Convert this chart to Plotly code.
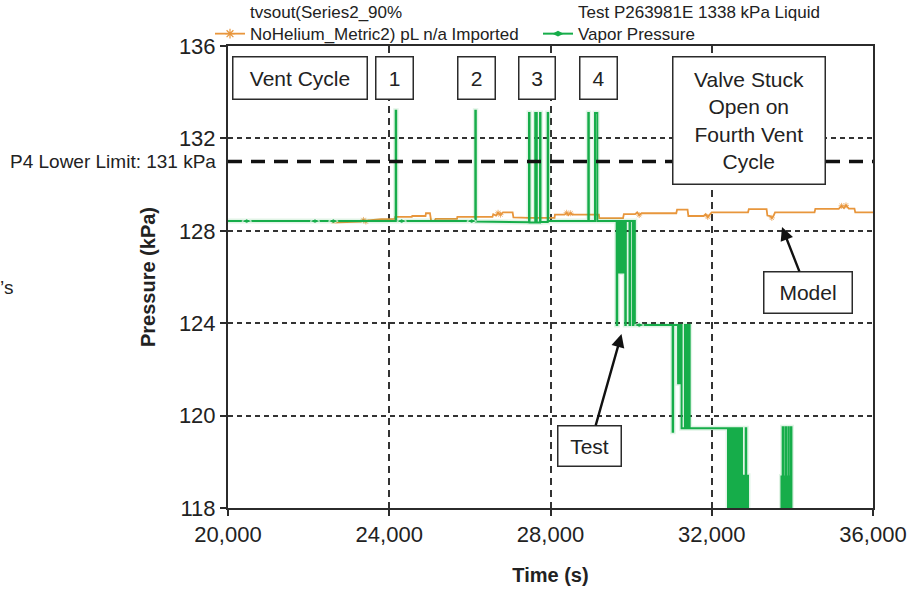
import plotly.graph_objects as go

FONT = "Liberation Sans, Arial, sans-serif"
INK = "#2b2b2b"
ORANGE = "#E8963C"
GREEN = "#16AD4A"

# Model prediction (orange), time in s, pressure in kPa
model_time = [22570, 23050, 23230, 23300, 23360, 23420, 23480, 23800, 24140, 24150,
              24560, 24570, 24900, 24910, 25010, 25040, 25120, 25150, 25680, 25690,
              26560, 26580, 26650, 26700, 26760, 26820, 27060, 27080, 27470, 28100,
              28110, 28350, 28400, 28440, 28500, 28540, 29200, 29210, 29800, 29820,
              30100, 30150, 30200, 30260, 31120, 31140, 31400, 31420, 31800, 31850,
              31900, 31960, 32000, 32900, 32920, 33360, 33380, 33450, 33490, 33530,
              33570, 34550, 34570, 35150, 35220, 35280, 35330, 35400, 35540, 35560,
              36000]
model_kpa = [128.36, 128.38, 128.42, 128.40, 128.47, 128.40, 128.45, 128.50, 128.52, 128.60,
             128.60, 128.64, 128.64, 128.76, 128.76, 128.42, 128.42, 128.52, 128.52, 128.60,
             128.60, 128.72, 128.66, 128.78, 128.70, 128.80, 128.80, 128.58, 128.56, 128.56,
             128.70, 128.70, 128.78, 128.68, 128.76, 128.70, 128.70, 128.55, 128.55, 128.72,
             128.72, 128.80, 128.68, 128.76, 128.76, 128.92, 128.92, 128.64, 128.64, 128.72,
             128.60, 128.70, 128.80, 128.80, 128.94, 128.94, 128.66, 128.64, 128.56, 128.64,
             128.80, 128.80, 128.95, 128.95, 129.08, 128.98, 129.10, 128.96, 128.96, 128.80,
             128.80]
model_marker_time = [23360, 23420, 26700, 26760, 28400, 28500, 30200, 31900, 33490, 35220, 35330]

# Test data (green): vent cycles 1-4 on the liquid vapor pressure trace
test_vent_time = [20000, 20464, 22158, 22612, 24160, 24160, 24172, 24172, 24308, 26045,
                  26135, 26135, 26147, 26147, 27467, 27467, 27479, 27479, 27622, 27622,
                  27660, 27660, 27740, 27740, 27752, 27752, 27931, 27931, 27943, 27943,
                  28938, 28938, 28950, 28950, 29104, 29104, 29161, 29161, 29642]
test_vent_kpa = [128.42, 128.42, 128.42, 128.42, 128.42, 133.2, 133.2, 128.42, 128.42, 128.42,
                 128.42, 133.2, 133.2, 128.40, 128.37, 133.1, 133.1, 128.36, 128.36, 133.1,
                 133.1, 128.36, 128.36, 133.1, 133.1, 128.38, 128.38, 133.1, 133.1, 128.42,
                 128.42, 133.1, 133.1, 128.42, 128.42, 133.1, 133.1, 128.42, 128.42]

# Valve stuck open: first pressure drop
test_drop1_time = [29642, 29655, 29655, 29680, 29680, 29698, 29698, 29716, 29716, 29734,
                   29734, 29752, 29752, 29770, 29770, 29788, 29788, 29806, 29806, 29824,
                   29824, 29842, 29842, 29855, 29855, 29868, 29868, 29960, 29960, 29972,
                   29972, 30040, 30040, 30052, 30052, 30092, 30092, 30200, 31030]
test_drop1_kpa = [123.92, 123.92, 128.42, 128.42, 126.2, 126.2, 128.42, 128.42, 126.2, 126.2,
                  128.42, 128.42, 126.2, 126.2, 128.42, 128.42, 126.2, 126.2, 128.42, 128.42,
                  126.2, 126.2, 128.42, 128.42, 123.92, 123.92, 128.42, 128.42, 123.92, 123.92,
                  128.42, 128.42, 123.92, 123.92, 128.42, 128.42, 123.92, 123.92, 123.92]

# Second pressure drop
test_drop2_time = [31030, 31042, 31042, 31165, 31165, 31180, 31180, 31195, 31195, 31210,
                   31210, 31225, 31225, 31240, 31240, 31252, 31252, 31335, 31335, 31347,
                   31347, 31390, 31390, 31402, 31402, 31440, 31440, 31452, 31452, 32403]
test_drop2_kpa = [119.3, 119.3, 123.92, 123.92, 121.4, 121.4, 123.92, 123.92, 121.4, 121.4,
                  123.92, 123.92, 121.4, 121.4, 123.92, 123.92, 119.45, 119.45, 123.92, 123.92,
                  119.45, 119.45, 123.92, 123.92, 119.45, 119.45, 123.92, 123.92, 119.45, 119.45]

# Rapid cycling below 120 kPa (values under the axis floor are clipped)
test_burst3_time = [32403, 32428, 32428, 32451, 32451, 32477, 32477, 32502, 32502, 32526,
                    32526, 32553, 32553, 32577, 32577, 32600, 32600, 32627, 32627, 32652,
                    32652, 32676, 32676, 32703, 32703, 32727, 32727, 32750, 32750, 32775,
                    32775, 32798, 32798, 32820, 32820, 32843, 32843, 32855, 32855, 32878,
                    32878, 32899, 32899, 33729]
test_burst3_kpa = [115.0, 115.0, 119.45, 119.45, 115.0, 115.0, 119.45, 119.45, 115.0, 115.0,
                   119.45, 119.45, 115.0, 115.0, 119.45, 119.45, 115.0, 115.0, 119.45, 119.45,
                   115.0, 115.0, 119.45, 119.45, 115.0, 115.0, 119.45, 119.45, 115.0, 115.0,
                   117.4, 117.4, 115.0, 115.0, 117.4, 117.4, 119.45, 119.45, 115.0, 115.0,
                   117.4, 117.4, 115.0, 115.0]
test_burst4_time = [33729, 33729, 33745, 33745, 33759, 33759, 33771, 33771, 33790, 33790,
                    33810, 33810, 33828, 33828, 33843, 33843, 33855, 33855, 33872, 33872,
                    33888, 33888, 33900, 33900, 33912, 33912, 33930, 33930, 33948, 33948,
                    33966, 33966, 33977, 33977, 36000]
test_burst4_kpa = [115.0, 117.36, 117.36, 115.0, 115.0, 119.5, 119.5, 115.0, 115.0, 117.36,
                   117.36, 115.0, 115.0, 119.5, 119.5, 115.0, 115.0, 117.36, 117.36, 115.0,
                   115.0, 117.36, 117.36, 119.5, 119.5, 115.0, 115.0, 117.36, 117.36, 115.0,
                   115.0, 119.5, 119.5, 115.0, 115.0]
test_marker_time = [20464, 22158, 22612, 24308, 26045, 30200]

p4_lower_limit = 131  # kPa

x_ticks = [20000, 24000, 28000, 32000, 36000]
x_tick_text = ["20,000", "24,000", "28,000", "32,000", "36,000"]
y_ticks = [116, 120, 124, 128, 132, 136]
y_tick_text = ["118", "120", "124", "128", "132", "136"]

legend_model = "tvsout(Series2_90%<br>NoHelium_Metric2) pL n/a Imported"
legend_test = "Test P263981E 1338 kPa Liquid<br>Vapor Pressure"

test_time = test_vent_time + test_drop1_time + test_drop2_time + test_burst3_time + test_burst4_time
test_kpa = test_vent_kpa + test_drop1_kpa + test_drop2_kpa + test_burst3_kpa + test_burst4_kpa

model_sizes = [5 if t in model_marker_time else 0 for t in model_time]
test_sizes = [7 if t in test_marker_time else 0 for t in test_time]

fig = go.Figure()

fig.add_trace(go.Scatter(x=model_time, y=model_kpa, mode="lines+markers", showlegend=False,
                         line=dict(color=ORANGE, width=1.8),
                         marker=dict(symbol="asterisk-open", size=model_sizes,
                                     line=dict(color=ORANGE, width=1))))
# soft glow under the test trace
fig.add_trace(go.Scatter(x=test_time, y=test_kpa, mode="lines", showlegend=False,
                         line=dict(color="rgba(40,175,80,0.14)", width=5), hoverinfo="skip"))
fig.add_trace(go.Scatter(x=test_time, y=test_kpa, mode="lines+markers", showlegend=False,
                         line=dict(color=GREEN, width=2),
                         marker=dict(symbol="diamond-wide", size=test_sizes, color=GREEN)))

# legend entries
fig.add_trace(go.Scatter(x=[None], y=[None], mode="lines+markers", name=legend_model,
                         line=dict(color=ORANGE, width=1.8),
                         marker=dict(symbol="asterisk-open", size=8, line=dict(color=ORANGE, width=1.2))))
fig.add_trace(go.Scatter(x=[None], y=[None], mode="lines+markers", name=legend_test,
                         line=dict(color=GREEN, width=2),
                         marker=dict(symbol="diamond-wide", size=8, color=GREEN)))

# P4 lower limit
fig.add_shape(type="line", xref="paper", x0=0, x1=1, yref="y", y0=p4_lower_limit, y1=p4_lower_limit,
              line=dict(color="#111", width=3.5, dash="14px,9px"), layer="above")

# plot-area pixel frame: 228..873 horizontally, 46..508 vertically
L, R, T, B = 228, 873, 46, 508


def px(x):
    return (x - L) / (R - L)


def py(y):
    return (B - y) / (B - T)


box_font = dict(family=FONT, size=21, color="#222")


def box(text, x0, x1, y0, y1):
    fig.add_annotation(text=text, xref="paper", yref="paper",
                       x=px((x0 + x1) / 2), y=py((y0 + y1) / 2),
                       xanchor="center", yanchor="middle", showarrow=False,
                       width=x1 - x0 - 2, height=y1 - y0 - 2, borderpad=0,
                       bordercolor=INK, borderwidth=1.5, bgcolor="white", font=box_font)


box("Vent Cycle", 232, 367, 56, 99)
box("1", 375, 413, 56, 99)
box("2", 457, 495, 56, 99)
box("3", 518, 555, 56, 99)
box("4", 579, 617, 56, 99)
box("Valve Stuck<br>Open on<br>Fourth Vent<br>Cycle", 672, 825, 56, 184)


def callout(text, tip_t, tip_p, x0, x1, y0, y1, tip_px, tip_py):
    cx, cy = (x0 + x1) / 2, (y0 + y1) / 2
    fig.add_annotation(text=text, x=tip_t, y=tip_p, xref="x", yref="y",
                       ax=cx - tip_px, ay=cy - tip_py, axref="pixel", ayref="pixel",
                       showarrow=True, arrowhead=2, arrowsize=1.1, arrowwidth=2.4,
                       arrowcolor="#111", width=x1 - x0 - 2, height=y1 - y0 - 2, borderpad=0,
                       bordercolor=INK, borderwidth=1.5, bgcolor="white", font=box_font)


callout("Model", 33743, 128.16, 763, 852, 271, 313, 782, 227)
callout("Test", 29761, 123.53, 558, 622, 425, 466, 621.5, 334)

fig.add_annotation(text="P4 Lower Limit: 131 kPa", xref="paper", yref="y",
                   x=px(218), y=p4_lower_limit, xanchor="right", yanchor="middle",
                   showarrow=False, font=dict(family=FONT, size=19, color="#222"))
fig.add_annotation(text="\u2019s", xref="paper", yref="paper", x=px(15), y=py(287),
                   xanchor="right", yanchor="middle", showarrow=False,
                   font=dict(family=FONT, size=19, color="#222"))

axis_common = dict(showline=True, linecolor=INK, linewidth=2, mirror=True, ticks="outside",
                   ticklen=6, tickcolor=INK, tickwidth=1.5, zeroline=False, automargin=False,
                   tickfont=dict(family=FONT, size=22, color="#222"), gridcolor="#333")

fig.update_xaxes(range=[20000, 36000], tickvals=x_ticks, ticktext=x_tick_text,
                 griddash="7px,5px", gridwidth=2,
                 title=dict(text="Time (s)", standoff=22,
                            font=dict(family=FONT, size=20, color="#222", weight="bold")),
                 **axis_common)
fig.update_yaxes(range=[116, 136], tickvals=y_ticks, ticktext=y_tick_text,
                 griddash="5px,4px", gridwidth=1.5,
                 title=dict(text="Pressure (kPa)", standoff=18,
                            font=dict(family=FONT, size=20, color="#222", weight="bold")),
                 **axis_common)

fig.update_layout(
    width=914, height=592,
    margin=dict(l=L, r=914 - R, t=T, b=592 - B, autoexpand=False),
    paper_bgcolor="white", plot_bgcolor="white",
    font=dict(family=FONT, color="#222"),
    legend=dict(orientation="h", x=px(210), xanchor="left", y=py(-6), yanchor="top",
                font=dict(family=FONT, size=17, color="#222"), valign="bottom",
                bgcolor="rgba(0,0,0,0)", entrywidthmode="pixels", entrywidth=283,
                tracegroupgap=0, itemwidth=30),
)

fig.write_html("out.html")
